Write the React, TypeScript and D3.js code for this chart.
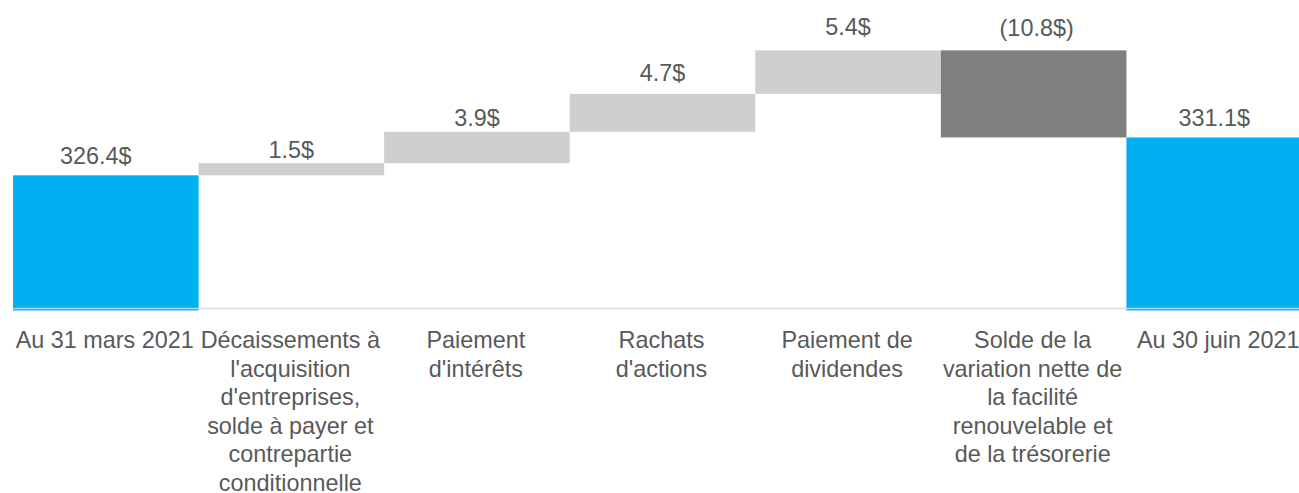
import React from "react";
import * as d3 from "d3";

const categories = [
  "Au 31 mars 2021",
  "Décaissements à\nl'acquisition\nd'entreprises,\nsolde à payer et\ncontrepartie\nconditionnelle",
  "Paiement\nd'intérêts",
  "Rachats\nd'actions",
  "Paiement de\ndividendes",
  "Solde de la\nvariation nette de\nla facilité\nrenouvelable et\nde la trésorerie",
  "Au 30 juin 2021",
];
const values = [326.4, 1.5, 3.9, 4.7, 5.4, -10.8, 331.1];
const kinds = ["total", "inc", "inc", "inc", "inc", "dec", "total"];
const valueLabels = ["326.4$", "1.5$", "3.9$", "4.7$", "5.4$", "(10.8$)", "331.1$"];
const axisMin = 310;
const axisMax = 348.15;

const W = 1299;
const H = 493;
const FONT = "'Liberation Sans', Arial, sans-serif";
const FS = 23.4;
const TEXT = "#595959";
const COLORS: Record<string, string> = { total: "#00B0F0", inc: "#D0CECE", dec: "#7F7F7F" };
// small label nudges (styling)
const labelLift = [11, 5, 5.5, 13, 15, 14, 11];
const labelShift = [-10, 0, 0, 0, 0, 3, -5];

export default function App() {
  const x = d3.scaleBand<string>().domain(categories).range([13, 1312]).padding(0);
  const y = d3.scaleLinear().domain([axisMin, axisMax]).range([307.5, 0]);

  let running = 0;
  const bars = values.map((v, i) => {
    let lo: number, hi: number;
    if (kinds[i] === "total") {
      lo = axisMin;
      hi = v;
      running = v;
    } else {
      const start = running;
      running = running + v;
      lo = Math.min(start, running);
      hi = Math.max(start, running);
    }
    return { cat: categories[i], lo, hi, kind: kinds[i], label: valueLabels[i], i };
  });

  const bw = x.bandwidth();

  return (
    <svg
      width={W}
      height={H}
      style={{ position: "absolute", left: 0, top: 0, background: "#fff" }}
      fontFamily={FONT}
    >
      {bars.map((b) => {
        const top = y(b.hi);
        const bottom = b.kind === "total" ? y(b.lo) + 3 : y(b.lo);
        return (
          <rect
            key={"r" + b.i}
            x={x(b.cat)!}
            y={top}
            width={bw}
            height={bottom - top}
            fill={COLORS[b.kind]}
          />
        );
      })}
      <line
        x1={x(categories[0])!}
        x2={W}
        y1={y(axisMin) + 1}
        y2={y(axisMin) + 1}
        stroke="#d9d9d9"
        strokeOpacity={0.85}
        strokeWidth={1.6}
      />
      {bars.map((b) => (
        <text
          key={"v" + b.i}
          x={x(b.cat)! + bw / 2 + labelShift[b.i]}
          y={y(b.hi) - labelLift[b.i]}
          textAnchor="middle"
          fontSize={FS}
          fill={TEXT}
        >
          {b.label}
        </text>
      ))}
      {categories.map((c, i) => {
        const lines = c.split("\n");
        return (
          <text
            key={"c" + i}
            x={x(c)! + bw / 2 - 1}
            y={348}
            textAnchor="middle"
            fontSize={FS}
            fill={TEXT}
          >
            {lines.map((l, j) => (
              <tspan key={j} x={x(c)! + bw / 2 - 1} dy={j === 0 ? 0 : 28.5}>
                {l}
              </tspan>
            ))}
          </text>
        );
      })}
    </svg>
  );
}
